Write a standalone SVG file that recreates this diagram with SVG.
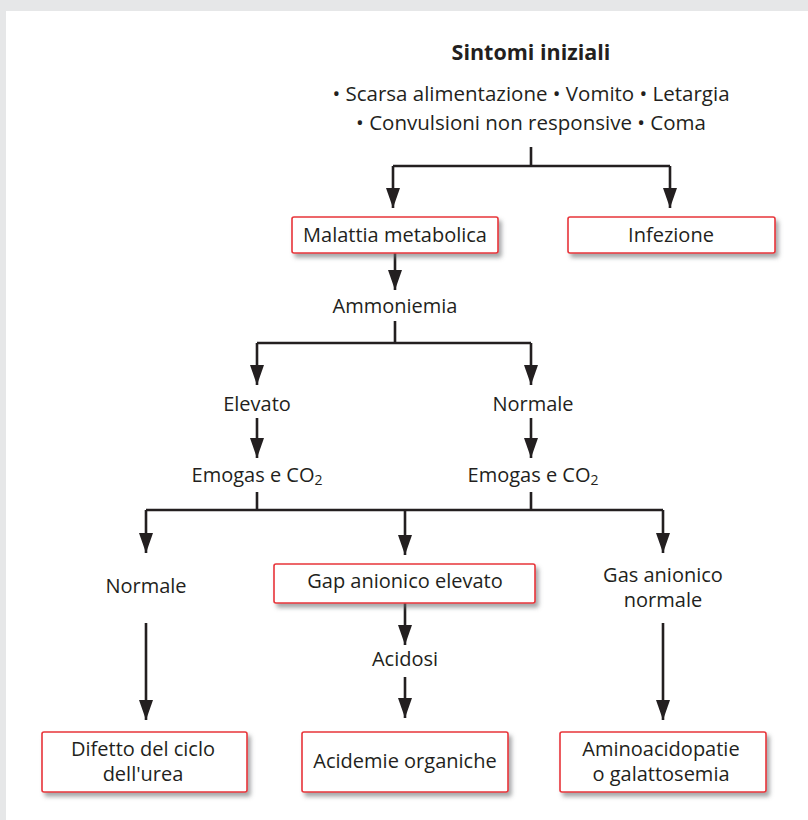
<svg xmlns="http://www.w3.org/2000/svg" width="808" height="820" viewBox="0 0 808 820">
<style>
text{font-family:"Open Sans","DejaVu Sans",sans-serif;font-size:20px;fill:#231f20;text-anchor:middle}
.t{font-weight:bold;font-size:21.5px}
.s{font-size:20.5px}
.box{fill:#fff;stroke:#e8343a;stroke-width:1.6;filter:url(#sh)}
.c{stroke:#231f20;stroke-width:2.6;fill:none}
.a{marker-end:url(#ah)}
</style>
<defs>
<filter id="sh" x="-10%" y="-20%" width="130%" height="160%">
<feDropShadow dx="3" dy="4" stdDeviation="2" flood-color="#6d6e71" flood-opacity="0.6"/>
</filter>
<marker id="ah" viewBox="0 0 20 14" refX="20" refY="7" markerWidth="20" markerHeight="14" markerUnits="userSpaceOnUse" orient="auto">
<path d="M0,0 L20,7 L0,14 z" fill="#231f20"/>
</marker>
</defs>
<rect x="0" y="0" width="808" height="820" fill="#e6e7e8"/>
<rect x="6" y="11" width="802" height="809" fill="#fff"/>

<g id="connectors">
<path class="c" d="M531,147 V166 M393,166 H670"/>
<path class="c a" d="M393,166 V208"/>
<path class="c a" d="M670,166 V208"/>
<path class="c a" d="M395,253 V290"/>
<path class="c" d="M395,321 V343 M257,343 H531"/>
<path class="c a" d="M257,343 V385"/>
<path class="c a" d="M531,343 V385"/>
<path class="c a" d="M257,418 V458"/>
<path class="c a" d="M531,418 V458"/>
<path class="c" d="M257,492 V510 M531,492 V510 M146,510 H663"/>
<path class="c a" d="M146,510 V553"/>
<path class="c a" d="M405,510 V555"/>
<path class="c a" d="M663,510 V553"/>
<path class="c a" d="M146,623 V720"/>
<path class="c a" d="M405,603 V645"/>
<path class="c a" d="M405,677 V718"/>
<path class="c a" d="M663,623 V720"/>
</g>

<g id="sintomi">
<text class="t" x="531" y="60">Sintomi iniziali</text>
<text class="s" x="531" y="101">• Scarsa alimentazione • Vomito • Letargia</text>
<text class="s" x="531" y="130">• Convulsioni non responsive • Coma</text>
</g>
<g id="malattia">
<rect class="box" x="292" y="217" width="206" height="36" rx="2"/>
<text x="395" y="242">Malattia metabolica</text>
</g>
<g id="infezione">
<rect class="box" x="568" y="217" width="207" height="36" rx="2"/>
<text x="671" y="242">Infezione</text>
</g>
<g id="ammoniemia"><text x="395" y="313">Ammoniemia</text></g>
<g id="elevato"><text x="257" y="411">Elevato</text></g>
<g id="normale1"><text x="533" y="411">Normale</text></g>
<g id="emogas1"><text x="257" y="482">Emogas e CO<tspan font-size="14" dy="3">2</tspan></text></g>
<g id="emogas2"><text x="533" y="482">Emogas e CO<tspan font-size="14" dy="3">2</tspan></text></g>
<g id="normale2"><text x="146" y="593">Normale</text></g>
<g id="gap">
<rect class="box" x="274" y="564" width="261" height="39" rx="2"/>
<text x="405" y="588">Gap anionico elevato</text>
</g>
<g id="gas"><text x="663" y="582">Gas anionico</text><text x="663" y="607">normale</text></g>
<g id="acidosi"><text x="405" y="666">Acidosi</text></g>
<g id="difetto">
<rect class="box" x="42" y="732" width="205" height="60" rx="2"/>
<text x="143" y="756">Difetto del ciclo</text>
<text x="143" y="781">dell'urea</text>
</g>
<g id="acidemie">
<rect class="box" x="302" y="732" width="206" height="60" rx="2"/>
<text x="405" y="768">Acidemie organiche</text>
</g>
<g id="amino">
<rect class="box" x="560" y="732" width="206" height="60" rx="2"/>
<text x="661" y="756">Aminoacidopatie</text>
<text x="661" y="781">o galattosemia</text>
</g>
</svg>
